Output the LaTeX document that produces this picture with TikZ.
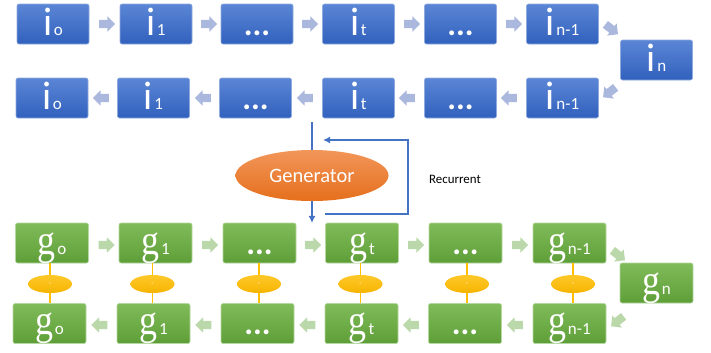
\documentclass[tikz,border=0pt]{standalone}
\usepackage{graphicx}
\usepackage{fontspec}
\setmainfont{Carlito}
\newfontfamily\gfont{Liberation Serif}
\usetikzlibrary{shapes.geometric,shapes.arrows,arrows.meta}
\newlength\pxu \setlength\pxu{0.03cm}
\definecolor{btop}{HTML}{5B86D6}
\definecolor{bbot}{HTML}{3161BD}
\definecolor{bline}{HTML}{8FAADC}
\definecolor{gtop}{HTML}{80BC5A}
\definecolor{gbot}{HTML}{5E9E38}
\definecolor{gline}{HTML}{B5D7A0}
\definecolor{otop}{HTML}{F2965A}
\definecolor{obot}{HTML}{E56F1C}
\definecolor{ytop}{HTML}{FFC82A}
\definecolor{ybot}{HTML}{F5B400}
\definecolor{yline}{HTML}{FFC000}
\definecolor{arrblue}{HTML}{AAB8DD}
\definecolor{arrgreen}{HTML}{BBD8AA}
\definecolor{conn}{HTML}{4472C4}
\newcommand\ilab[1]{{\fontsize{34}{34}\selectfont i}\kern1.2pt{\fontsize{14.5}{14.5}\selectfont #1}}
\newcommand\glab[1]{\scalebox{0.85}[1]{\gfont\fontsize{36}{36}\selectfont g}\kern1.5pt{\fontsize{14.5}{14.5}\selectfont #1}}
\newcommand\dotsl{{\fontsize{28}{28}\selectfont\bfseries ...}}
\begin{document}
\begin{tikzpicture}[x=0.03cm,y=-0.03cm,
  bbox/.style={rectangle, rounded corners=2\pxu, minimum width=72\pxu, minimum height=40\pxu,
    inner sep=0pt, top color=btop, bottom color=bbot, draw=bline, line width=0.5pt,
    text=white, text height=22\pxu, text depth=0pt},
  gbox/.style={rectangle, rounded corners=2\pxu, minimum width=73\pxu, minimum height=40\pxu,
    inner sep=0pt, top color=gtop, bottom color=gbot, draw=gline, line width=0.5pt,
    text=white, text height=22\pxu, text depth=0pt},
  arr/.style={single arrow, single arrow head extend=3.5\pxu, minimum height=16\pxu,
    inner sep=4\pxu, draw=none},
  barr/.style={arr, fill=arrblue},
  garr/.style={arr, fill=arrgreen},
  yell/.style={ellipse, minimum width=44\pxu, minimum height=18\pxu, inner sep=0pt,
    top color=ytop, bottom color=ybot, text=white, font=\fontsize{6}{6}\selectfont},
  yl/.style={draw=yline, line width=1.6pt},
  cn/.style={draw=conn, line width=1.4pt}
]
\useasboundingbox (0,0) rectangle (711,352);

% ---------- row 1 (blue, forward)
\node[bbox] (a1) at (53,24) {\ilab{o}};
\node[bbox] (a2) at (156,24) {\ilab{1}};
\node[bbox] (a3) at (257,24) {\dotsl};
\node[bbox] (a4) at (358.5,24) {\ilab{t}};
\node[bbox] (a5) at (460.5,24) {\dotsl};
\node[bbox] (a6) at (562.5,24) {\ilab{n-1}};
\node[bbox] (an) at (656.5,60) {\ilab{n}};
% ---------- row 2 (blue, backward)
\node[bbox] (b1) at (52,98) {\ilab{o}};
\node[bbox] (b2) at (153.5,98) {\ilab{1}};
\node[bbox] (b3) at (255.5,98) {\dotsl};
\node[bbox] (b4) at (358.5,98) {\ilab{t}};
\node[bbox] (b5) at (460.5,98) {\dotsl};
\node[bbox] (b6) at (562.5,98) {\ilab{n-1}};
% blue arrows
\node[barr] (ra1) at (105,24) {};
\node[barr] (ra2) at (207,24) {};
\node[barr] (ra3) at (308,24) {};
\node[barr] (ra4) at (410,24) {};
\node[barr] (ra5) at (512,24) {};
\node[barr, rotate=-38] (ra6) at (610,28) {};
\node[barr, shape border rotate=180] (la1) at (103,98) {};
\node[barr, shape border rotate=180] (la2) at (205,98) {};
\node[barr, shape border rotate=180] (la3) at (307,98) {};
\node[barr, shape border rotate=180] (la4) at (409,98) {};
\node[barr, shape border rotate=180] (la5) at (511,98) {};
\node[barr, rotate=-142] (la6) at (611,91) {};

% ---------- generator
\coordinate (gin) at (312,122);
\coordinate (gout) at (312,223);
\coordinate (r1) at (325,214);
\coordinate (r2) at (408,214);
\coordinate (r3) at (408,140);
\coordinate (r4) at (323,140);
\draw[cn, -{Latex[length=6pt,width=6pt]}] (gin) -- (gout);
\draw[cn, -{Latex[length=6pt,width=6pt]}] (r1) -- (r2) -- (r3) -- (r4);
\node[ellipse, minimum width=153\pxu, minimum height=51\pxu, inner sep=0pt,
  top color=otop, bottom color=obot, text=white,
  font=\fontsize{17.5}{17.5}\selectfont] (gen) at (312,175.5) {Generator};
\node[font=\fontsize{11}{11}\selectfont, text=black] (rec) at (455,179) {Recurrent};

% ---------- row 3 (green, forward)
\node[gbox] (c1) at (52,243) {\glab{o}};
\node[gbox] (c2) at (155.5,243) {\glab{1}};
\node[gbox] (c3) at (259.5,243) {\dotsl};
\node[gbox] (c4) at (362,243) {\glab{t}};
\node[gbox] (c5) at (465.5,243) {\dotsl};
\node[gbox] (c6) at (569.5,243) {\glab{n-1}};
\node[gbox] (cn) at (656.5,283) {\glab{n}};
% ---------- row 4 (green, backward)
\node[gbox] (d1) at (49.5,323.5) {\glab{o}};
\node[gbox] (d2) at (153.5,323.5) {\glab{1}};
\node[gbox] (d3) at (257.5,323.5) {\dotsl};
\node[gbox] (d4) at (361.5,323.5) {\glab{t}};
\node[gbox] (d5) at (465,323.5) {\dotsl};
\node[gbox] (d6) at (569.5,323.5) {\glab{n-1}};
% green arrows
\node[garr] (rc1) at (104.5,245) {};
\node[garr] (rc2) at (208,245) {};
\node[garr] (rc3) at (311,245) {};
\node[garr] (rc4) at (414,245) {};
\node[garr] (rc5) at (518,245) {};
\node[garr, rotate=-38] (rc6) at (617,254) {};
\node[garr, shape border rotate=180] (lc1) at (101.5,325) {};
\node[garr, shape border rotate=180] (lc2) at (205.5,325) {};
\node[garr, shape border rotate=180] (lc3) at (309.5,325) {};
\node[garr, shape border rotate=180] (lc4) at (413,325) {};
\node[garr, shape border rotate=180] (lc5) at (517,325) {};
\node[garr, rotate=-142] (lc6) at (619,320) {};

% yellow difference links
\foreach \k/\x in {1/50,2/152.5,3/259,4/360.5,5/467,6/573}{
  \coordinate (y\k) at (\x,284);
  \draw[yl] (y\k |- c\k.south) -- (y\k |- d\k.north);
  \node[yell] (e\k) at (y\k) {-};
}
\end{tikzpicture}
\end{document}
